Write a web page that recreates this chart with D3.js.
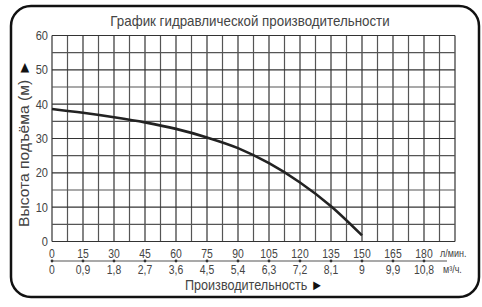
<!DOCTYPE html>
<html>
<head>
<meta charset="utf-8">
<script src="https://cdn.jsdelivr.net/npm/d3@7.9.0/dist/d3.min.js"></script>
<style>
  body { margin: 0; background: #fff; }
  svg text { font-family: "Liberation Sans", Arial, sans-serif; fill: #444; }
</style>
</head>
<body>
<svg id="chart" width="482" height="307"></svg>
<script>
// flow (l/min) vs head (m)
const flowLmin = [0, 15, 30, 45, 60, 75, 90, 105, 120, 135, 150];
const head = [38.6, 37.5, 36.2, 34.7, 32.8, 30.3, 27.2, 22.8, 17.2, 10.3, 1.8];

const lminTicks = [0, 15, 30, 45, 60, 75, 90, 105, 120, 135, 150, 165, 180];
const m3hTicks = ['0', '0,9', '1,8', '2,7', '3,6', '4,5', '5,4', '6,3', '7,2', '8,1', '9', '9,9', '10,8'];
const headTicks = [0, 10, 20, 30, 40, 50, 60];

const svg = d3.select('#chart');

// narrow text helper (no condensed font installed)
function label(px, py, txt, size, anchor, sx) {
  return svg.append('text')
    .attr('transform', `translate(${px},${py}) scale(${sx},1)`)
    .attr('text-anchor', anchor)
    .attr('font-size', size)
    .text(txt);
}

// rounded frame
svg.append('rect')
  .attr('x', 11).attr('y', 6)
  .attr('width', 468).attr('height', 291)
  .attr('rx', 20)
  .attr('fill', 'none')
  .attr('stroke', '#111')
  .attr('stroke-width', 2.5);

const x = d3.scaleLinear().domain([0, 195]).range([52, 455]);
const y = d3.scaleLinear().domain([0, 60]).range([241.5, 35.5]);

// grid
const g = svg.append('g');
g.selectAll('line.v')
  .data(d3.range(0, 195.1, 7.5))
  .join('line')
  .attr('x1', d => x(d)).attr('x2', d => x(d))
  .attr('y1', y(0)).attr('y2', y(60))
  .attr('stroke', (d, i) => i % 2 ? '#555' : '#333')
  .attr('stroke-width', 1.2);
g.selectAll('line.h')
  .data(d3.range(0, 60.1, 5))
  .join('line')
  .attr('x1', x(0)).attr('x2', x(195))
  .attr('y1', d => y(d)).attr('y2', d => y(d))
  .attr('stroke', (d, i) => i % 2 ? '#555' : '#333')
  .attr('stroke-width', 1.2);

// curve
const line = d3.line()
  .x((d, i) => x(flowLmin[i]))
  .y(d => y(d))
  .curve(d3.curveMonotoneX);
svg.append('path')
  .attr('d', line(head))
  .attr('fill', 'none')
  .attr('stroke', '#222')
  .attr('stroke-width', 2.6);

// y tick labels
headTicks.forEach(d => label(48, y(d) + 4.5, d, 13, 'end', 0.85));

// lower axis
svg.append('line')
  .attr('x1', x(0)).attr('x2', 447)
  .attr('y1', 261).attr('y2', 261)
  .attr('stroke', '#555').attr('stroke-width', 1.2);
svg.selectAll('circle.tk')
  .data(lminTicks)
  .join('circle')
  .attr('cx', d => x(d)).attr('cy', 261).attr('r', 1.4)
  .attr('fill', '#333');

lminTicks.forEach(d => label(x(d), 258, d, 13, 'middle', 0.8));
m3hTicks.forEach((d, i) => label(x(lminTicks[i]), 274, d, 13, 'middle', 0.8));

label(440, 257, 'л/мин.', 10, 'start', 0.9);
label(443, 273, 'м³/ч.', 10, 'start', 0.9);

// titles
label(250, 26, 'График гидравлической производительности', 14.5, 'middle', 0.92);

const xt = label(185, 290, 'Производительность ', 14.5, 'start', 0.87);
xt.append('tspan').attr('fill', '#111').text('►');

const yt = svg.append('text')
  .attr('transform', 'translate(29,227) rotate(-90)')
  .attr('text-anchor', 'start')
  .attr('textLength', 167)
  .attr('lengthAdjust', 'spacingAndGlyphs')
  .attr('font-size', 14.5)
  .text('Высота подъёма (м) ');
yt.append('tspan').attr('fill', '#111').text('►');
</script>
</body>
</html>
